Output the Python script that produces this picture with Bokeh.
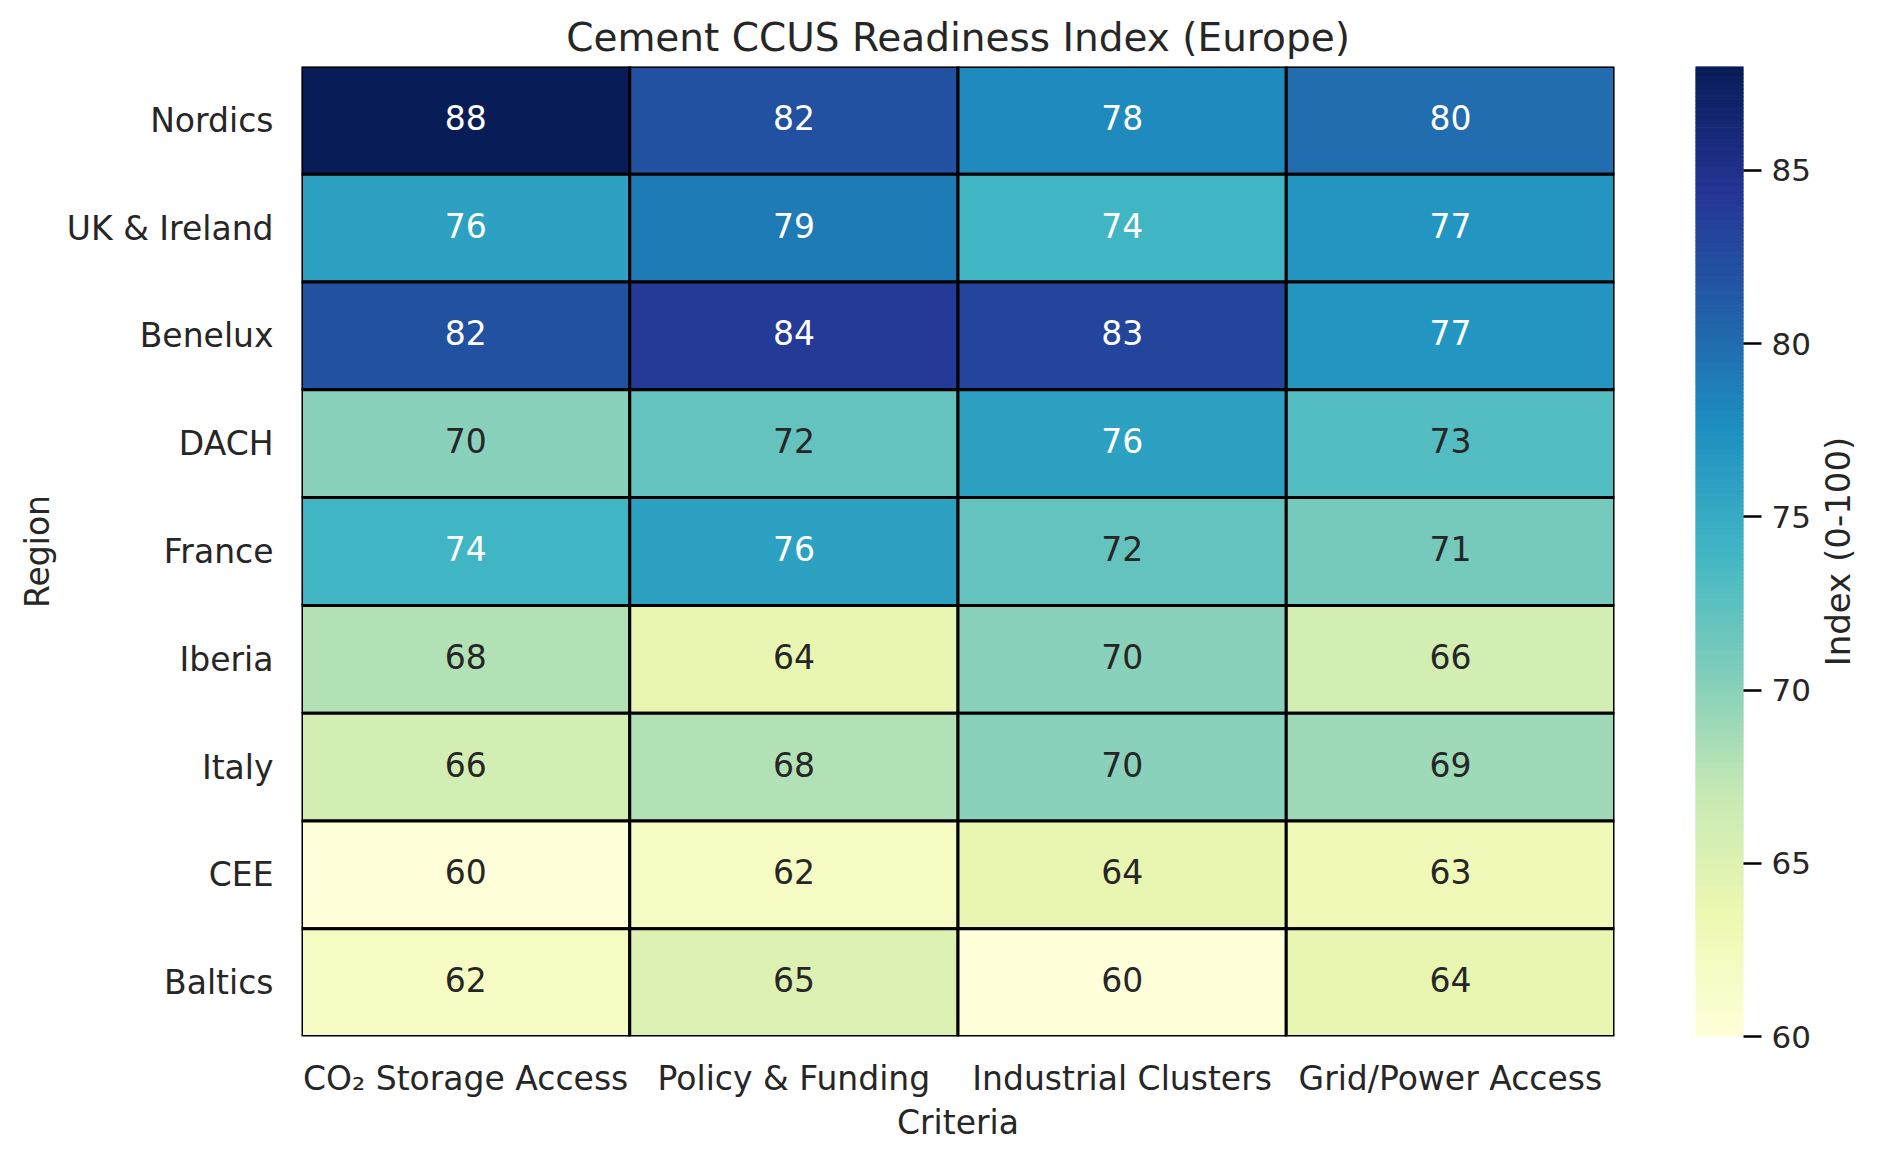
import math
from bokeh.plotting import figure
from bokeh.layouts import row
from bokeh.models import (LinearColorMapper, FixedTicker, ColumnDataSource,
                          FactorRange, Range1d)
from bokeh.transform import transform
from bokeh.core.properties import value
from bokeh.embed import file_html
from bokeh.resources import INLINE

# ---- data ----
regions = ["Nordics", "UK & Ireland", "Benelux", "DACH", "France",
           "Iberia", "Italy", "CEE", "Baltics"]
criteria = ["CO\u2082 Storage Access", "Policy & Funding",
            "Industrial Clusters", "Grid/Power Access"]
co2_storage = [88, 76, 82, 70, 74, 68, 66, 60, 62]
policy_funding = [82, 79, 84, 72, 76, 64, 68, 62, 65]
industrial_clusters = [78, 74, 83, 76, 72, 70, 70, 64, 60]
grid_power = [80, 77, 77, 73, 71, 66, 69, 63, 64]
columns = [co2_storage, policy_funding, industrial_clusters, grid_power]
cbar_ticks = [60, 65, 70, 75, 80, 85]
cbar_title = "Index (0-100)"
vmin, vmax = 60, 88

# ---- palette (YlGnBu, 256 steps) ----
nodes = ["#ffffd9", "#edf8b1", "#c7e9b4", "#7fcdbb", "#41b6c4",
         "#1d91c0", "#225ea8", "#253494", "#081d58"]
def hex2rgb(h):
    return [int(h[i:i + 2], 16) / 255.0 for i in (1, 3, 5)]
node_rgb = [hex2rgb(h) for h in nodes]
N = 256
pal_rgb = []
for k in range(N):
    t = k / (N - 1) * (len(nodes) - 1)
    i = min(int(math.floor(t)), len(nodes) - 2)
    f = t - i
    pal_rgb.append([node_rgb[i][q] + (node_rgb[i + 1][q] - node_rgb[i][q]) * f for q in range(3)])
palette = ["#%02x%02x%02x" % tuple(int(round(v * 255)) for v in c) for c in pal_rgb]

def lum(c):
    out = [v / 12.92 if v <= 0.03928 else ((v + 0.055) / 1.055) ** 2.4 for v in c]
    return 0.2126 * out[0] + 0.7152 * out[1] + 0.0722 * out[2]

xs, ys, vals, tcols, labels = [], [], [], [], []
for j, crit in enumerate(criteria):
    for i, reg in enumerate(regions):
        v = columns[j][i]
        idx = max(0, min(N - 1, int((v - vmin) / (vmax - vmin) * N)))
        xs.append(crit); ys.append(reg); vals.append(v); labels.append(str(v))
        tcols.append("#262626" if lum(pal_rgb[idx]) > 0.408 else "#ffffff")

src = ColumnDataSource(dict(x=xs, y=ys, v=vals, t=labels, tc=tcols))
mapper = LinearColorMapper(palette=palette, low=vmin, high=vmax)

FONT = "DejaVu Sans"
TXT = "#262626"
H = 1144
TOP, BOT = 66, 108

# ---- heatmap ----
p = figure(width=1650, height=H, output_backend="svg", toolbar_location=None,
           x_range=FactorRange(*criteria), y_range=FactorRange(*list(reversed(regions))),
           min_border_left=301, min_border_right=36, min_border_top=TOP,
           min_border_bottom=BOT)
p.title.text = "Cement CCUS Readiness Index (Europe)"
p.title.text_font = FONT
p.title.text_font_size = "39px"
p.title.text_font_style = "normal"
p.title.text_color = TXT
p.title.align = "center"
p.title.standoff = 14

p.rect(x="x", y="y", width=1, height=1, source=src,
       fill_color=transform("v", mapper), line_color="black", line_width=3)
p.text(x="x", y="y", text="t", source=src, text_color="tc",
       text_align="center", text_baseline="middle", y_offset=-3,
       text_font=value(FONT), text_font_size="33px")

p.grid.visible = False
p.outline_line_color = None
for ax in (p.xaxis, p.yaxis):
    ax.axis_line_color = None
    ax.major_tick_line_color = None
    ax.minor_tick_line_color = None
    ax.major_label_text_font = FONT
    ax.major_label_text_font_size = "33px"
    ax.major_label_text_color = TXT
    ax.axis_label_text_font = FONT
    ax.axis_label_text_font_size = "33px"
    ax.axis_label_text_font_style = "normal"
    ax.axis_label_text_color = TXT
p.xaxis.axis_label = "Criteria"
p.yaxis.axis_label = "Region"
p.xaxis.major_label_standoff = 16
p.yaxis.major_label_standoff = 22
p.xaxis.axis_label_standoff = 2
p.yaxis.axis_label_standoff = 7

# ---- colour bar ----
p2 = figure(width=165, height=H, output_backend="svg", toolbar_location=None,
            x_range=Range1d(0, 1), y_range=Range1d(vmin, vmax),
            x_axis_location=None, y_axis_location="right",
            min_border_left=45, min_border_right=72, min_border_top=TOP,
            min_border_bottom=BOT)
step = (vmax - vmin) / N
bottoms = [vmin + k * step for k in range(N)]
tops = [vmin + (k + 1) * step for k in range(N)]
p2.quad(left=0, right=1, bottom=bottoms, top=tops, fill_color=palette,
        line_color=palette, line_width=1)
p2.grid.visible = False
p2.outline_line_color = None
ya = p2.yaxis[0]
ya.ticker = FixedTicker(ticks=cbar_ticks)
ya.axis_line_color = None
ya.minor_tick_line_color = None
ya.major_tick_out = 18
ya.major_tick_in = 0
ya.major_tick_line_color = "black"
ya.major_tick_line_width = 2.5
ya.major_label_standoff = 10
ya.major_label_text_font = FONT
ya.major_label_text_font_size = "31px"
ya.major_label_text_color = TXT

# ---- colour bar title ----
p3 = figure(width=44, height=H, output_backend="svg", toolbar_location=None,
            x_range=Range1d(0, 1), y_range=Range1d(0, 1),
            x_axis_location=None, y_axis_location=None,
            min_border_left=0, min_border_right=0, min_border_top=TOP,
            min_border_bottom=BOT)
p3.grid.visible = False
p3.outline_line_color = None
p3.text(x=[0.5], y=[0.5], text=[cbar_title], angle=math.pi / 2,
        text_align="center", text_baseline="middle", text_color=TXT,
        text_font=value(FONT), text_font_size="34px")

layout = row(p, p2, p3)
open("out.html", "w").write(file_html(layout, INLINE))
